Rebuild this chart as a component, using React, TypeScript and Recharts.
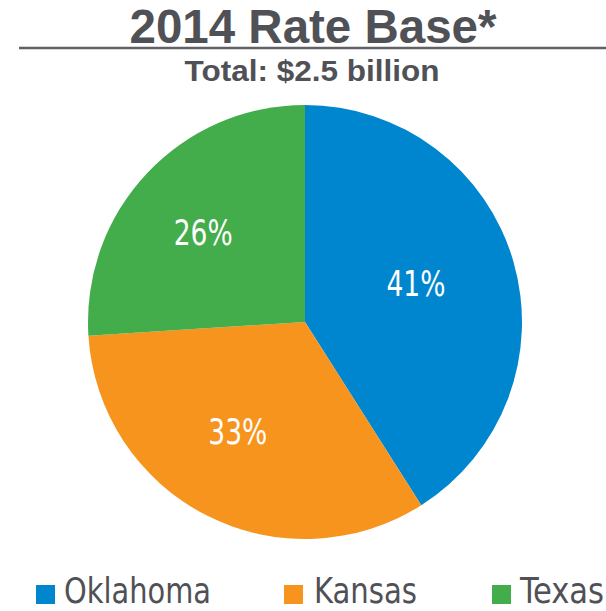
import React from "react";
import { PieChart, Pie, Cell, Legend } from "recharts";

const categories = ["Oklahoma", "Kansas", "Texas"];
const shares = [41, 33, 26];
const colors = ["#0086CF", "#F7941E", "#43AC4B"];
const titleText = "2014 Rate Base*";
const subtitleText = "Total: $2.5 billion";

const data = categories.map((name, i) => ({ name, value: shares[i] }));

const TEXT = "#505156";
const NARROW = "'Liberation Sans Narrow', 'Arial Narrow', 'DejaVu Sans Condensed', 'Roboto Condensed', 'Liberation Sans', Arial, sans-serif";
const BOLD = "'Liberation Sans', Arial, Helvetica, sans-serif";
const RAD = Math.PI / 180;

const renderLabel = (props: any) => {
  const { cx, cy, midAngle, value } = props;
  const r = 126;
  const x = cx + r * Math.cos(-midAngle * RAD) - 10;
  const y = cy + r * Math.sin(-midAngle * RAD) - 3;
  return (
    <text
      x={x}
      y={y + 12.5}
      fill="#ffffff"
      textAnchor="middle"
      fontFamily={NARROW}
      fontSize={35}
      textLength={59}
      lengthAdjust="spacingAndGlyphs"
    >
      {`${value}%`}
    </text>
  );
};

const legendLayout = [
  { sq: 36, tx: 64, w: 147 },
  { sq: 284, tx: 314, w: 103 },
  { sq: 492, tx: 520, w: 84 },
];

const renderLegend = (props: any) => {
  const payload = props.payload || [];
  return (
    <svg width={606} height={38} style={{ display: "block", overflow: "visible" }}>
      {payload.map((p: any) => {
        const idx = categories.indexOf(p.value);
        const l = legendLayout[idx >= 0 ? idx : 0];
        return (
          <g key={p.value}>
            <rect x={l.sq} y={13} width={19} height={19} fill={colors[idx]} />
            <text
              x={l.tx}
              y={31}
              fill={TEXT}
              fontFamily={NARROW}
              fontSize={35}
              textLength={l.w}
              lengthAdjust="spacingAndGlyphs"
            >
              {p.value}
            </text>
          </g>
        );
      })}
    </svg>
  );
};

export default function App() {
  return (
    <div style={{ position: "absolute", left: 0, top: 0, width: 606, height: 611, background: "#fff" }}>
      <svg width={606} height={611} style={{ position: "absolute", left: 0, top: 0 }}>
        <text
          x={313}
          y={43}
          textAnchor="middle"
          fill={TEXT}
          fontFamily={BOLD}
          fontWeight="bold"
          fontSize={48}
          textLength={367}
          lengthAdjust="spacingAndGlyphs"
        >
          {titleText}
        </text>
        <line x1={19} x2={606} y1={48} y2={48} stroke="#606166" strokeWidth={2.5} />
        <text
          x={312}
          y={81}
          textAnchor="middle"
          fill={TEXT}
          fontFamily={BOLD}
          fontWeight="bold"
          fontSize={30}
          textLength={255}
          lengthAdjust="spacingAndGlyphs"
        >
          {subtitleText}
        </text>
      </svg>
      <div style={{ position: "absolute", left: 0, top: 0 }}>
        <PieChart width={606} height={611} margin={{ top: 0, right: 0, bottom: 0, left: 0 }}>
          <Pie
            data={data}
            dataKey="value"
            nameKey="name"
            cx={305}
            cy={322}
            outerRadius={217}
            startAngle={90}
            endAngle={-270}
            stroke="none"
            label={renderLabel}
            labelLine={false}
            isAnimationActive={false}
          >
            {data.map((d, i) => (
              <Cell key={d.name} fill={colors[i]} />
            ))}
          </Pie>
          <Legend
            content={renderLegend}
            wrapperStyle={{ position: "absolute", left: 0, top: 572, width: 606, height: 38 }}
          />
        </PieChart>
      </div>
    </div>
  );
}
